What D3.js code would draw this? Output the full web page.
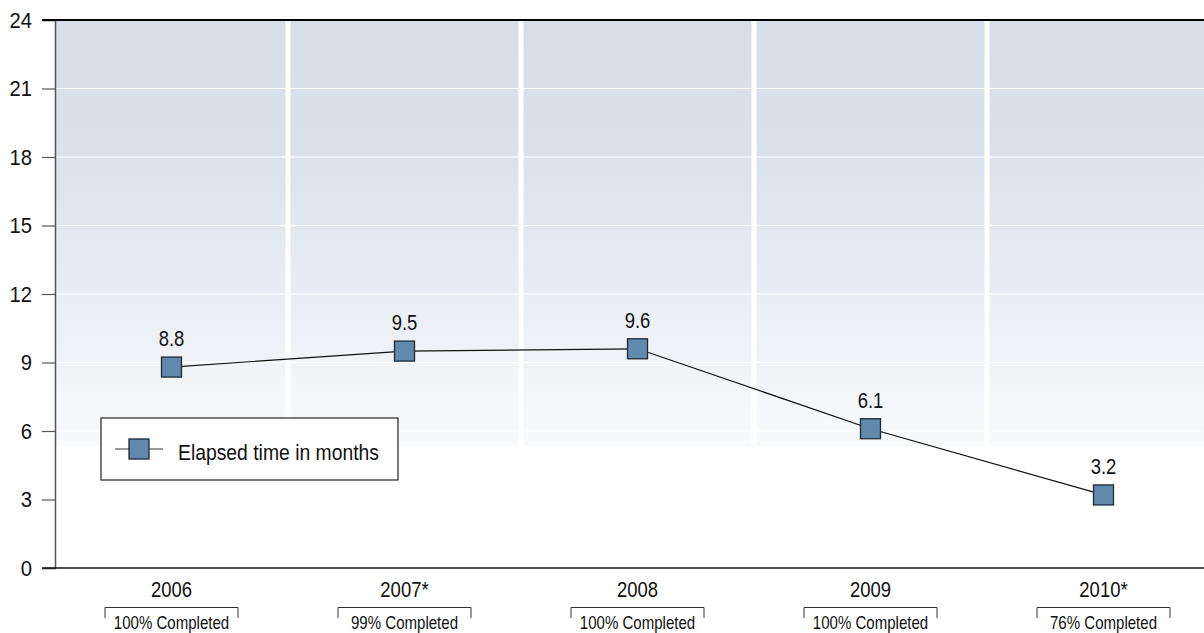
<!DOCTYPE html>
<html>
<head>
<meta charset="utf-8">
<script src="https://cdn.jsdelivr.net/npm/d3@7"></script>
<style>
  html, body { margin: 0; padding: 0; background: #fff; }
  svg { display: block; font-family: "Liberation Sans", Arial, sans-serif; }
  svg text { font-family: "Liberation Sans", Arial, sans-serif; }
</style>
</head>
<body>
<svg id="chart" width="1204" height="633"></svg>
<script>
// Elapsed time per year, in months
const years = ["2006", "2007*", "2008", "2009", "2010*"];
const months = [8.8, 9.5, 9.6, 6.1, 3.2];
const completion = ["100% Completed", "99% Completed", "100% Completed", "100% Completed", "76% Completed"];
const yTicks = [0, 3, 6, 9, 12, 15, 18, 21, 24];
const seriesName = "Elapsed time in months";

const svg = d3.select("#chart");
const plotLeft = 55, plotRight = 1220, plotTop = 20, plotBottom = 568;
const SX = 0.86; // horizontal squeeze giving a condensed type look

const x = d3.scaleBand().domain(years).range([plotLeft, plotRight]).padding(0);
const y = d3.scaleLinear().domain([0, 24]).range([plotBottom, plotTop]);
const cx = d => x(d) + x.bandwidth() / 2;

// Position a text at (tx, ty) and squeeze it horizontally
function condensed(sel, tx, ty, sx = SX) {
  return sel.attr("x", 0).attr("y", 0)
    .attr("transform", function (d, i) {
      const a = typeof tx === "function" ? tx(d, i) : tx;
      const b = typeof ty === "function" ? ty(d, i) : ty;
      return `translate(${a},${b}) scale(${sx},1)`;
    });
}

// Background gradient: pale blue at the top fading to white
const defs = svg.append("defs");
const grad = defs.append("linearGradient")
  .attr("id", "bg").attr("x1", 0).attr("y1", 0).attr("x2", 0).attr("y2", 1);
grad.append("stop").attr("offset", "0%").attr("stop-color", "#d7dee8");
grad.append("stop").attr("offset", "30%").attr("stop-color", "#dbe1ea");
grad.append("stop").attr("offset", "100%").attr("stop-color", "#f9fafc");

const gradBottom = 446;
svg.append("rect")
  .attr("x", plotLeft).attr("y", plotTop)
  .attr("width", plotRight - plotLeft).attr("height", gradBottom - plotTop)
  .attr("fill", "url(#bg)");

// Horizontal white gridlines
svg.append("g").selectAll("line")
  .data(yTicks.filter(d => d > 0 && d < 24))
  .join("line")
  .attr("x1", plotLeft).attr("x2", plotRight)
  .attr("y1", d => y(d)).attr("y2", d => y(d))
  .attr("stroke", "#ffffff").attr("stroke-width", 1);

// Vertical white separators between years
svg.append("g").selectAll("line")
  .data(years.slice(1))
  .join("line")
  .attr("x1", d => x(d)).attr("x2", d => x(d))
  .attr("y1", plotTop).attr("y2", gradBottom)
  .attr("stroke", "#ffffff").attr("stroke-width", 5);

// Y axis
const yAxis = d3.axisLeft(y).tickValues(yTicks).tickSize(13).tickPadding(4).tickFormat(d3.format("d"));
const ya = svg.append("g").attr("transform", `translate(${plotLeft},0)`).call(yAxis)
  .attr("font-family", null).attr("font-size", null);
ya.select(".domain").attr("stroke", "#555").attr("stroke-width", 1.5);
ya.selectAll(".tick line").attr("stroke", "#555").attr("stroke-width", 1.2);
condensed(ya.selectAll(".tick text"), -23, 0, 0.92)
  .attr("fill", "#111").attr("font-size", 22).attr("dy", "0.34em");

// Top and bottom frame lines
svg.append("line").attr("x1", 42).attr("x2", 1204).attr("y1", plotTop).attr("y2", plotTop)
  .attr("stroke", "#000").attr("stroke-width", 2);
svg.append("line").attr("x1", 42).attr("x2", 1204).attr("y1", plotBottom).attr("y2", plotBottom)
  .attr("stroke", "#111").attr("stroke-width", 1.5);

// X axis category labels
const xAxis = d3.axisBottom(x).tickSize(0).tickPadding(12);
const xa = svg.append("g").attr("transform", `translate(0,${plotBottom})`).call(xAxis)
  .attr("font-family", null).attr("font-size", null);
xa.select(".domain").remove();
condensed(xa.selectAll(".tick text"), 0, 29)
  .attr("dy", 0).attr("fill", "#111").attr("font-size", 21.5);

// Completion brackets beneath each year
const bw = 133;
const br = svg.append("g").selectAll("g").data(years).join("g")
  .attr("transform", d => `translate(${cx(d)},0)`);
br.append("path")
  .attr("d", `M${-bw / 2},618 V607.5 H${bw / 2} V618`)
  .attr("fill", "none").attr("stroke", "#333").attr("stroke-width", 1);
condensed(br.append("text"), 0, 628.5)
  .attr("text-anchor", "middle")
  .attr("font-size", 17.5).attr("fill", "#111")
  .text((d, i) => completion[i]);

// Line and markers
const line = d3.line().x((d, i) => cx(years[i])).y(d => y(d));
svg.append("path").datum(months)
  .attr("d", line).attr("fill", "none").attr("stroke", "#111").attr("stroke-width", 1.2);

const ms = 20;
svg.append("g").selectAll("rect").data(months).join("rect")
  .attr("x", (d, i) => cx(years[i]) - ms / 2)
  .attr("y", d => y(d) - ms / 2)
  .attr("width", ms).attr("height", ms)
  .attr("fill", "#6089ab").attr("stroke", "#1e2a35").attr("stroke-width", 1.3);

condensed(svg.append("g").selectAll("text").data(months).join("text"),
    (d, i) => cx(years[i]), d => y(d) - 21)
  .attr("text-anchor", "middle").attr("font-size", 21.5).attr("fill", "#111")
  .text(d => d3.format(".1f")(d));

// Legend
const lg = svg.append("g").attr("transform", "translate(101,418)");
lg.append("rect").attr("width", 297).attr("height", 62)
  .attr("fill", "#fff").attr("stroke", "#222").attr("stroke-width", 1.2);
lg.append("line").attr("x1", 14).attr("x2", 62).attr("y1", 31).attr("y2", 31)
  .attr("stroke", "#333").attr("stroke-width", 1.2);
lg.append("rect").attr("x", 28).attr("y", 21).attr("width", 20).attr("height", 20)
  .attr("fill", "#6089ab").attr("stroke", "#1e2a35").attr("stroke-width", 1.3);
condensed(lg.append("text"), 77, 42)
  .attr("font-size", 22.5).attr("fill", "#111")
  .text(seriesName);
</script>
</body>
</html>
